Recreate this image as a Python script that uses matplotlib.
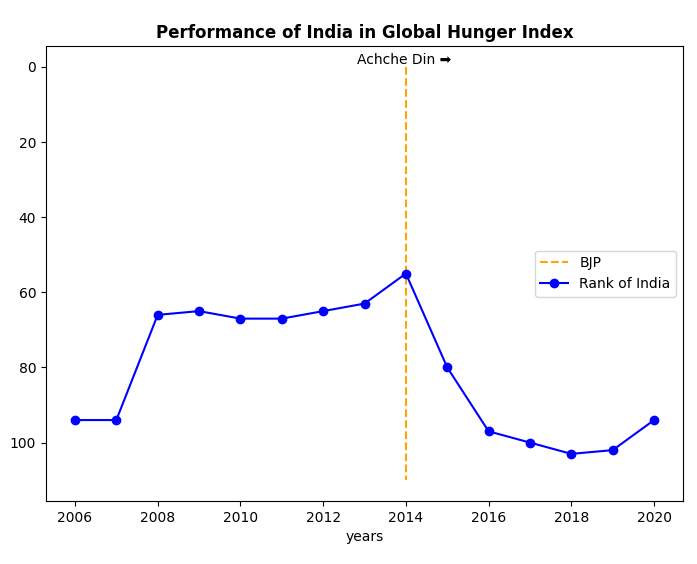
import matplotlib.pyplot as plt

# data
years = [2006, 2007, 2008, 2009, 2010, 2011, 2012, 2013, 2014, 2015, 2016, 2017, 2018, 2019, 2020]
rank = [94, 94, 66, 65, 67, 67, 65, 63, 55, 80, 97, 100, 103, 102, 94]
bjp_year = 2014
bjp_span = [0, 110]

fig, ax = plt.subplots(figsize=(6.97, 5.64), dpi=100)
fig.subplots_adjust(left=0.066, right=0.98, top=0.918, bottom=0.112)

ax.vlines(bjp_year, bjp_span[0], bjp_span[1], colors='orange', linestyles='dashed', label='BJP')
ax.plot(years, rank, 'o-', color='blue', label='Rank of India')
ax.text(bjp_year - 0.05, bjp_span[0], 'Achche Din \u27a1', ha='center', va='bottom')

ax.invert_yaxis()
ax.set_xlabel('years')
ax.set_title('Performance of India in Global Hunger Index', fontweight='bold')
ax.legend(loc='center right')

plt.savefig('out.png')
